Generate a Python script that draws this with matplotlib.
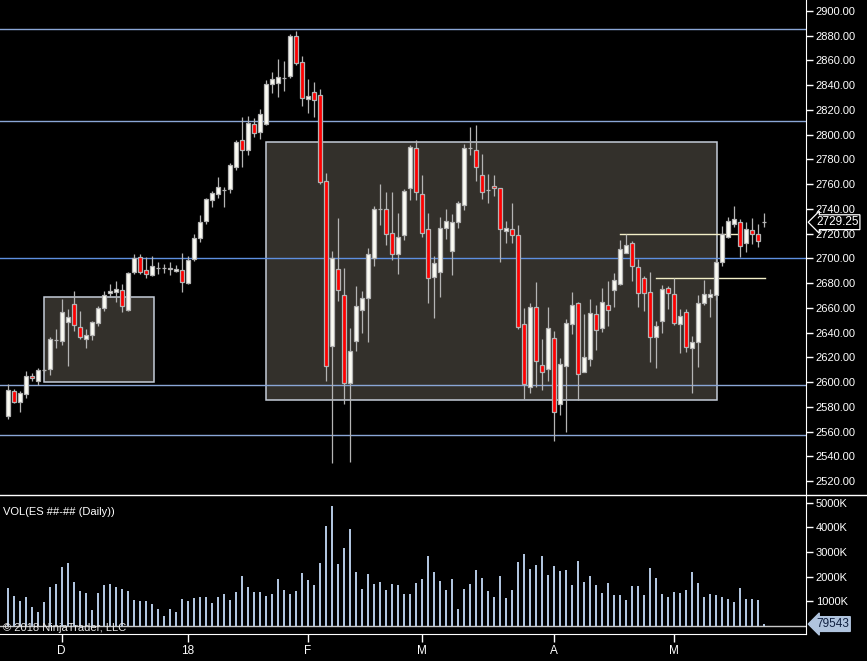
import numpy as np
import matplotlib
matplotlib.use("Agg")
import matplotlib.pyplot as plt
from matplotlib.patches import Rectangle
from matplotlib.lines import Line2D
from matplotlib.transforms import blended_transform_factory

plt.rcParams["font.family"] = ["Liberation Sans", "DejaVu Sans"]

# ── Data (daily ES bars) ─────────────────────────────────────────────────────

opens = [2572.8, 2592.8, 2583.9, 2590.6, 2604.9, 2601.1, 2609.5, 2610.8, 2634.0, 2633.4,
         2648.8, 2662.9, 2644.5, 2635.0, 2638.3, 2648.0, 2660.1, 2671.7, 2673.0, 2674.2,
         2658.5, 2688.7, 2700.9, 2690.3, 2686.8, 2692.5, 2692.5, 2692.5, 2689.5, 2690.3,
         2680.3, 2699.2, 2716.2, 2730.2, 2746.9, 2751.8, 2755.5, 2755.8, 2774.1, 2795.5,
         2787.9, 2808.4, 2802.4, 2808.9, 2840.7, 2842.0, 2846.1, 2847.7, 2879.8, 2858.5,
         2828.6, 2834.3, 2831.8, 2762.3, 2629.4, 2691.2, 2670.1, 2599.5, 2633.4, 2658.5,
         2668.2, 2700.5, 2739.9, 2739.7, 2720.3, 2703.8, 2718.6, 2756.6, 2789.0, 2751.8,
         2723.5, 2684.7, 2688.7, 2724.3, 2705.7, 2729.2, 2742.9, 2789.5, 2787.4, 2767.2,
         2755.5, 2758.3, 2756.6, 2721.9, 2723.5, 2718.6, 2646.7, 2595.7, 2660.4, 2613.5,
         2610.3, 2635.4, 2582.0, 2612.7, 2646.7, 2663.7, 2607.9, 2618.4, 2654.8, 2643.5,
         2662.0, 2674.2, 2679.5, 2704.6, 2712.2, 2692.8, 2683.9, 2672.6, 2636.2, 2649.1,
         2675.7, 2670.9, 2646.7, 2656.4, 2627.3, 2632.1, 2663.7, 2668.5, 2670.1, 2696.8,
         2717.0, 2727.5, 2729.2, 2712.2, 2722.7, 2719.5, 2729.25]
highs = [2598.4, 2594.4, 2592.8, 2608.9, 2607.0, 2611.3, 2610.5, 2636.2, 2642.9, 2667.1,
         2659.1, 2673.6, 2657.4, 2642.9, 2649.6, 2661.5, 2673.6, 2679.0, 2681.7, 2679.0,
         2688.9, 2703.5, 2703.5, 2700.9, 2701.7, 2696.8, 2695.2, 2696.8, 2694.4, 2704.3,
         2701.7, 2719.7, 2735.1, 2748.8, 2754.5, 2765.8, 2757.7, 2776.9, 2795.7, 2814.3,
         2814.9, 2813.5, 2820.8, 2844.2, 2850.7, 2861.2, 2859.3, 2881.4, 2883.8, 2863.6,
         2845.0, 2842.6, 2836.9, 2768.8, 2705.9, 2732.6, 2692.2, 2643.7, 2677.6, 2673.6,
         2708.2, 2742.3, 2760.1, 2753.7, 2753.7, 2736.7, 2756.1, 2791.9, 2795.7, 2767.4,
         2736.7, 2701.9, 2733.4, 2739.9, 2735.9, 2746.4, 2792.2, 2806.2, 2807.8, 2784.4,
         2768.2, 2767.4, 2756.6, 2730.2, 2744.8, 2726.7, 2659.9, 2663.9, 2680.9, 2634.8,
         2660.7, 2641.0, 2619.2, 2650.7, 2672.8, 2664.5, 2655.0, 2667.1, 2662.0, 2676.0,
         2681.7, 2688.2, 2714.8, 2719.5, 2713.8, 2699.2, 2685.5, 2688.7, 2649.1, 2678.2,
         2677.4, 2683.9, 2658.8, 2658.8, 2637.0, 2670.1, 2682.5, 2675.2, 2700.0, 2725.9,
         2733.2, 2742.3, 2731.6, 2729.2, 2732.4, 2727.5, 2736.4]
lows = [2570.1, 2582.8, 2575.8, 2587.3, 2601.1, 2597.6, 2608.5, 2605.7, 2627.8, 2629.9,
        2613.2, 2641.5, 2635.0, 2627.8, 2634.0, 2645.6, 2657.7, 2669.0, 2664.9, 2656.9,
        2657.4, 2687.6, 2687.1, 2684.4, 2685.9, 2687.6, 2688.4, 2686.8, 2688.7, 2672.8,
        2679.5, 2697.6, 2713.5, 2727.8, 2741.8, 2748.6, 2741.8, 2753.1, 2771.4, 2773.9,
        2783.8, 2798.4, 2796.5, 2807.6, 2833.9, 2830.7, 2835.6, 2846.1, 2856.6, 2823.4,
        2817.8, 2814.3, 2760.4, 2601.1, 2534.8, 2665.5, 2582.5, 2535.6, 2625.3, 2639.9,
        2632.6, 2694.1, 2727.2, 2710.8, 2698.9, 2687.6, 2714.8, 2747.2, 2747.2, 2717.5,
        2664.2, 2652.0, 2669.0, 2715.9, 2686.8, 2724.8, 2739.3, 2783.6, 2762.5, 2748.2,
        2745.0, 2750.4, 2697.3, 2712.7, 2712.7, 2642.6, 2586.5, 2591.4, 2596.2, 2593.8,
        2601.1, 2552.6, 2573.6, 2559.8, 2638.6, 2585.2, 2607.9, 2612.7, 2626.1, 2640.2,
        2645.1, 2660.7, 2678.5, 2704.1, 2681.7, 2660.4, 2657.7, 2616.4, 2611.6, 2639.9,
        2658.8, 2645.9, 2623.7, 2624.5, 2591.4, 2612.4, 2662.0, 2652.8, 2666.3, 2693.6,
        2716.2, 2725.1, 2700.9, 2704.9, 2711.4, 2708.9, 2725.1]
closes = [2593.6, 2584.1, 2591.1, 2604.9, 2603.0, 2609.7, 2609.5, 2634.8, 2634.0, 2656.4,
          2652.3, 2646.4, 2636.7, 2638.0, 2648.6, 2659.9, 2670.1, 2673.6, 2675.0, 2661.7,
          2687.9, 2700.0, 2689.2, 2687.1, 2693.6, 2692.5, 2692.5, 2691.2, 2691.2, 2681.1,
          2698.4, 2716.2, 2729.4, 2747.7, 2752.8, 2757.7, 2755.5, 2775.5, 2794.1, 2787.9,
          2809.4, 2801.6, 2816.5, 2841.0, 2844.8, 2846.4, 2846.1, 2879.8, 2858.2, 2829.9,
          2831.0, 2827.8, 2761.9, 2613.2, 2700.0, 2674.2, 2599.0, 2624.9, 2661.2, 2667.7,
          2703.3, 2739.7, 2739.9, 2719.5, 2703.8, 2717.0, 2754.5, 2789.8, 2753.4, 2720.3,
          2683.9, 2696.0, 2724.3, 2729.9, 2729.2, 2744.5, 2789.0, 2789.5, 2773.6, 2753.9,
          2755.5, 2756.6, 2723.5, 2724.3, 2718.6, 2644.3, 2598.2, 2660.4, 2616.8, 2607.9,
          2643.5, 2575.5, 2614.3, 2647.5, 2662.0, 2606.3, 2620.0, 2655.6, 2641.8, 2664.5,
          2658.0, 2682.3, 2707.3, 2710.6, 2693.6, 2671.7, 2671.7, 2636.2, 2645.1, 2674.9,
          2671.7, 2647.5, 2653.2, 2628.0, 2632.1, 2663.7, 2670.9, 2670.9, 2696.8, 2719.5,
          2729.9, 2731.6, 2709.8, 2723.5, 2719.5, 2713.8, 2729.25]
# volume in thousands of contracts
volume_k = [1530, 1220, 1020, 1180, 770, 570, 975, 1585, 1710, 2400,
            2560, 1790, 1420, 1340, 650, 1340, 1670, 1710, 1585, 1500,
            1420, 1060, 1020, 1020, 890, 690, 405, 690, 570, 1100,
            1020, 1140, 1180, 1180, 935, 1180, 1300, 1060, 1380, 2030,
            1585, 1380, 1380, 1220, 1300, 1910, 1460, 1300, 1420, 2150,
            1870, 1670, 2560, 4065, 4880, 2520, 3170, 3940, 2195, 1500,
            2110, 1710, 1790, 1460, 1710, 1670, 1300, 1300, 1750, 1910,
            2850, 2195, 1830, 1460, 1910, 690, 1500, 1710, 2280, 1950,
            1420, 1180, 2030, 1140, 1460, 2600, 2930, 2320, 2480, 2850,
            2070, 2440, 2240, 2280, 1670, 2640, 1790, 2030, 1670, 1340,
            1750, 1260, 1260, 1060, 1630, 1630, 1260, 2360, 1950, 1300,
            1180, 1380, 1340, 1460, 2195, 1750, 1180, 1300, 1260, 1180,
            1100, 975, 1545, 1100, 1100, 1060, 79.543]

tick_bars   = [9, 30, 50, 69, 91, 111]
tick_labels = ["D", "18", "F", "M", "A", "M"]

# drawn objects: horizontal levels, rectangles, ray lines
levels_gray = [2885.2, 2810.8, 2597.4, 2557.0]
level_blue  = 2700.0
boxes = [(6.1, 24.33, 2600.3, 2668.5), (43.05, 118.27, 2585.2, 2793.8)]
rays  = [(102.05, 121.7, 2719.5), (108.05, 126.2, 2683.9)]

assert len(opens) == len(highs) == len(lows) == len(closes) == len(volume_k)

# ── Style ────────────────────────────────────────────────────────────────────

BG        = "black"
OUTLINE   = "#b4b4b4"
UP_FILL   = "#fcfcf4"
DOWN_FILL = "#ff0000"
VOL_COLOR = "#b0c4de"
FG        = "white"

W, H = 867, 661
fig = plt.figure(figsize=(W / 100, H / 100), dpi=100, facecolor=BG)

ax  = fig.add_axes([0, (H - 494) / H, 806 / W, 494 / H], facecolor=BG)
axv = fig.add_axes([0, (H - 634) / H, 806 / W, 139 / H], facecolor=BG, sharex=ax)

x = np.arange(len(opens))
o = np.array(opens); c = np.array(closes)
h = np.array(highs); l = np.array(lows)

# ── Price panel ──────────────────────────────────────────────────────────────

for x0, x1, y0, y1 in boxes:
    ax.add_patch(Rectangle((x0, y0), x1 - x0, y1 - y0, facecolor="#33302b",
                           edgecolor="#c4ccd8", lw=1.1, zorder=1))

for lv in levels_gray:
    ax.axhline(lv, color="#8aa6d6", lw=1, zorder=2)
ax.axhline(level_blue, color="#5e8fe0", lw=1, zorder=2)

for x0, x1, lv in rays:
    ax.plot([x0, x1], [lv, lv], color="#f3efc8", lw=1, zorder=2)

ax.vlines(x, l, h, color=OUTLINE, lw=0.9, zorder=3)
up = c >= o
body_lo = np.minimum(o, c)
body_h  = np.abs(c - o)
ax.bar(x, body_h, bottom=body_lo, width=0.72,
       color=np.where(up, UP_FILL, DOWN_FILL), edgecolor=OUTLINE, lw=0.9, zorder=4)

ax.set_xlim(-1.283, 133.05)
ax.set_ylim(2509.5, 2908.9)
ax.set_yticks(np.arange(2520, 2901, 20))
ax.yaxis.set_major_formatter(plt.FuncFormatter(lambda v, _: f"{v:.2f}"))
ax.yaxis.tick_right()
ax.tick_params(axis="y", colors=FG, labelsize=8, length=5, width=1, pad=2)
ax.tick_params(axis="x", bottom=False, labelbottom=False)
for side in ["top", "left", "bottom"]:
    ax.spines[side].set_visible(False)
ax.spines["right"].set_color(FG)

# last price marker
blend = blended_transform_factory(ax.transAxes, ax.transData)
ax.annotate(f"{closes[-1]:.2f}", xy=(1, closes[-1]), xycoords=blend,
            xytext=(10, 0), textcoords="offset pixels", ha="left", va="center",
            color=FG, fontsize=8.5, annotation_clip=False,
            bbox=dict(boxstyle="larrow,pad=0.12", fc=BG, ec=FG, lw=0.9))

# ── Volume panel ─────────────────────────────────────────────────────────────

axv.axhline(0, color="#c8c8c8", lw=1, zorder=1)
axv.bar(x, volume_k, width=0.36, color=VOL_COLOR, zorder=2)
axv.set_ylim(-324, 5312)
axv.set_yticks([1000, 2000, 3000, 4000, 5000])
axv.yaxis.set_major_formatter(plt.FuncFormatter(lambda v, _: f"{v:.0f}K"))
axv.yaxis.tick_right()
axv.tick_params(axis="y", colors=FG, labelsize=8, length=5, width=1, pad=2)
axv.set_xticks(tick_bars)
axv.set_xticklabels(tick_labels)
axv.tick_params(axis="x", colors=FG, labelsize=8.5, length=6, width=1, pad=2)
for side in ["top", "left"]:
    axv.spines[side].set_visible(False)
axv.spines["right"].set_color(FG)
axv.spines["bottom"].set_color(FG)

blend_v = blended_transform_factory(axv.transAxes, axv.transData)
axv.annotate(f"{volume_k[-1] * 1000:.0f}", xy=(1, volume_k[-1]), xycoords=blend_v,
             xytext=(10, 0), textcoords="offset pixels", ha="left", va="center",
             color="#102040", fontsize=8.5, annotation_clip=False,
             bbox=dict(boxstyle="larrow,pad=0.12", fc=VOL_COLOR, ec=VOL_COLOR, lw=0.9))

axv.text(3 / 806, 0.88, "VOL(ES ##-## (Daily))", transform=axv.transAxes,
         color=FG, fontsize=8, ha="left", va="center")
axv.text(3 / 806, 0.045, "© 2018 NinjaTrader, LLC", transform=axv.transAxes,
         color="#e8e8e8", fontsize=8, ha="left", va="center", zorder=5)

# panel separator
fig.add_artist(Line2D([0, 1], [(H - 494.5) / H] * 2, transform=fig.transFigure,
                      color=FG, lw=1))

fig.savefig("out.png", dpi=100, facecolor=BG)
